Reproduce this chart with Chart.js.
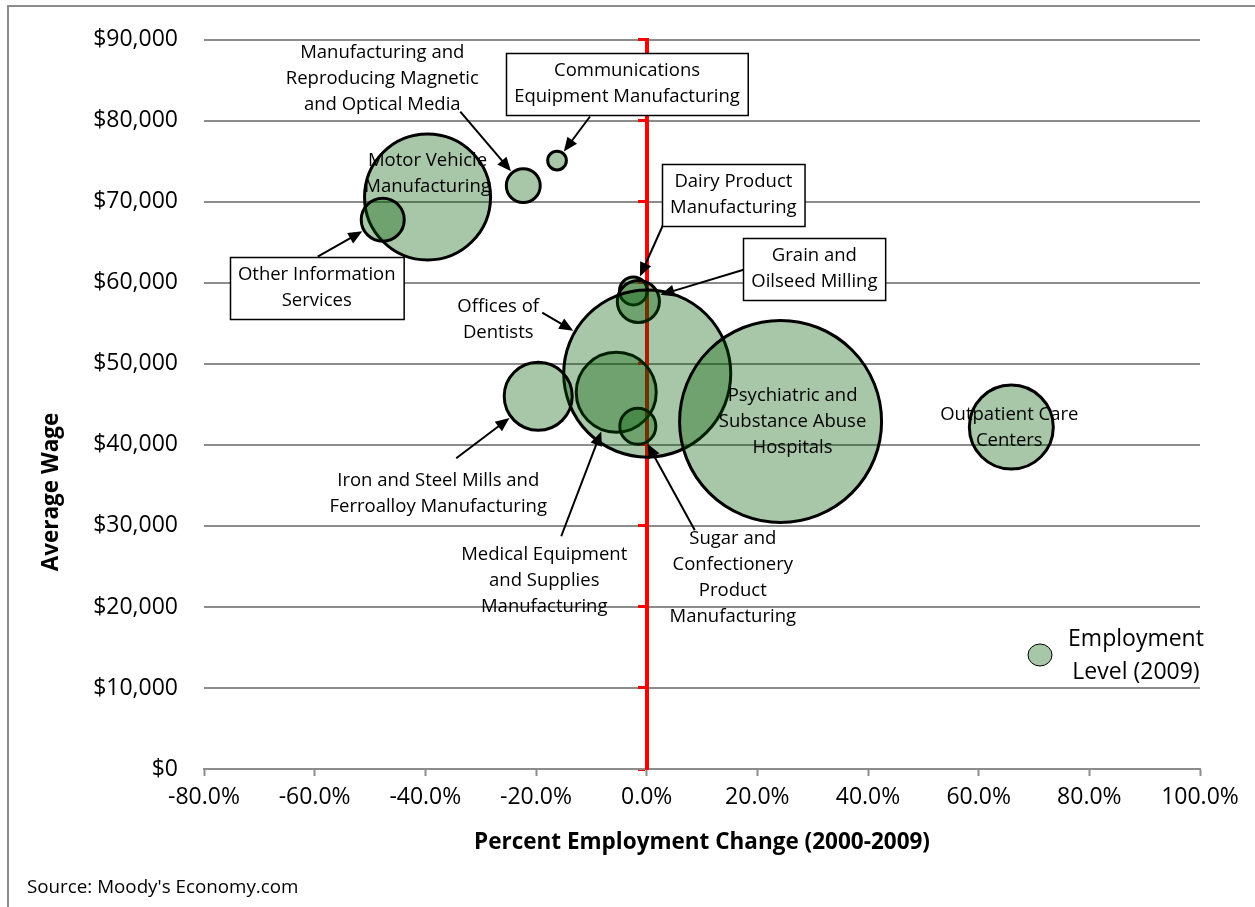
<!DOCTYPE html>
<html>
<head>
<meta charset="utf-8">
<title>Employment Change vs Average Wage</title>
<script src="https://cdn.jsdelivr.net/npm/chart.js@4.4.1/dist/chart.umd.min.js"></script>
<style>
    body { margin: 0; background: #fff; }
    canvas { display: block; }
</style>
</head>
<body>
<canvas id="wage-chart" width="1255" height="907"></canvas>
<script>
const industries = [
    "Motor Vehicle Manufacturing",
    "Other Information Services",
    "Manufacturing and Reproducing Magnetic and Optical Media",
    "Communications Equipment Manufacturing",
    "Medical Equipment and Supplies Manufacturing",
    "Sugar and Confectionery Product Manufacturing",
    "Dairy Product Manufacturing",
    "Grain and Oilseed Milling",
    "Offices of Dentists",
    "Iron and Steel Mills and Ferroalloy Manufacturing",
    "Psychiatric and Substance Abuse Hospitals",
    "Outpatient Care Centers"
];
// percent change in employment, 2000-2009
const employmentChange = [-39.6, -47.7, -22.3, -16.2, -5.5, -1.6, -2.4, -1.5, 0.1, -19.6, 24.2, 65.9];
// average wage, dollars
const averageWage = [70600, 67800, 72000, 75100, 46500, 42300, 59000, 57700, 48800, 46000, 42900, 42200];
// employment level 2009 (bubble area)
const employmentLevel = [635, 74, 46, 14, 256, 52, 31, 71, 1116, 185, 1632, 282];

// label text, one entry per line
const labelLines = [
    ["Motor Vehicle", "Manufacturing"],
    ["Other Information", "Services"],
    ["Manufacturing and", "Reproducing Magnetic", "and Optical Media"],
    ["Communications", "Equipment Manufacturing"],
    ["Medical Equipment", "and Supplies", "Manufacturing"],
    ["Sugar and", "Confectionery", "Product", "Manufacturing"],
    ["Dairy Product", "Manufacturing"],
    ["Grain and", "Oilseed Milling"],
    ["Offices of", "Dentists"],
    ["Iron and Steel Mills and", "Ferroalloy Manufacturing"],
    ["Psychiatric and", "Substance Abuse", "Hospitals"],
    ["Outpatient Care", "Centers"]
];

const BUBBLE_SCALE = 2.5;
const FONT = '"Open Sans", sans-serif';
const GRID_GRAY = '#8c8c8c';
const BUBBLE_FILL = 'rgba(0, 90, 0, 0.34)';

// where each label sits relative to its bubble (px), and where its arrow starts
const labelLayout = [
    { dx: 0, dy: -23 },
    { dx: -66, dy: 68, box: true, arrow: [-65, 37] },
    { dx: -141, dy: -107, arrow: [-63, -74] },
    { dx: 70, dy: -77, box: true, arrow: [33, -44] },
    { dx: -72, dy: 188, arrow: [-55, 144] },
    { dx: 95, dy: 151, arrow: [57, 104] },
    { dx: 100, dy: -96, box: true, arrow: [31, -69] },
    { dx: 176, dy: -33, box: true, arrow: [106, -32] },
    { dx: -149, dy: -54, arrow: [-105, -61] },
    { dx: -100, dy: 97, arrow: [-82, 62] },
    { dx: 12, dy: 0 },
    { dx: -2, dy: 1 }
];

const bubbleData = industries.map((name, i) => ({
    x: employmentChange[i],
    y: averageWage[i],
    r: Math.sqrt(employmentLevel[i]) * BUBBLE_SCALE
}));

function drawArrow(ctx, x1, y1, x2, y2) {
    const ang = Math.atan2(y2 - y1, x2 - x1);
    const cos = Math.cos(ang), sin = Math.sin(ang);
    const head = 14, half = 6;
    ctx.beginPath();
    ctx.moveTo(x1, y1);
    ctx.lineTo(x2 - cos * head * 0.8, y2 - sin * head * 0.8);
    ctx.stroke();
    ctx.beginPath();
    ctx.moveTo(x2, y2);
    ctx.lineTo(x2 - head * cos + half * sin, y2 - head * sin - half * cos);
    ctx.lineTo(x2 - head * cos - half * sin, y2 - head * sin + half * cos);
    ctx.closePath();
    ctx.fill();
}

const bubbleLabels = {
    id: 'bubbleLabels',
    afterDatasetsDraw(chart) {
        const ctx = chart.ctx;
        const meta = chart.getDatasetMeta(0);
        const lh = 26;
        ctx.save();
        ctx.font = `18.5px ${FONT}`;
        ctx.textAlign = 'center';
        ctx.textBaseline = 'middle';
        ctx.strokeStyle = '#000';
        ctx.fillStyle = '#000';
        ctx.lineWidth = 2;
        industries.forEach((name, i) => {
            const el = meta.data[i];
            const lay = labelLayout[i];
            if (!lay.arrow) return;
            const sx = el.x + lay.arrow[0], sy = el.y + lay.arrow[1];
            const d = Math.hypot(lay.arrow[0], lay.arrow[1]);
            const r = el.options.radius + 2;
            drawArrow(ctx, sx, sy, el.x + lay.arrow[0] / d * r, el.y + lay.arrow[1] / d * r);
        });
        industries.forEach((name, i) => {
            const el = meta.data[i];
            const lay = labelLayout[i];
            const lines = labelLines[i];
            const cx = el.x + lay.dx, cy = el.y + lay.dy;
            if (lay.box) {
                const w = Math.max(...lines.map(t => ctx.measureText(t).width)) + 16;
                const h = lines.length * lh + 10;
                const bx = Math.round(cx - w / 2) + 0.5, by = Math.round(cy - h / 2) + 0.5;
                ctx.fillStyle = '#fff';
                ctx.fillRect(bx, by, w, h);
                ctx.lineWidth = 1.5;
                ctx.strokeRect(bx, by, w, h);
                ctx.fillStyle = '#000';
            }
            lines.forEach((t, k) => {
                ctx.fillText(t, cx, cy + (k - (lines.length - 1) / 2) * lh);
            });
        });
        ctx.restore();
    }
};

const chartDecor = {
    id: 'chartDecor',
    afterDraw(chart) {
        const ctx = chart.ctx;
        ctx.save();
        // outer frame
        ctx.strokeStyle = GRID_GRAY;
        ctx.lineWidth = 2;
        ctx.beginPath();
        ctx.moveTo(8, 908);
        ctx.lineTo(8, 6);
        ctx.lineTo(1256, 6);
        ctx.stroke();

        ctx.fillStyle = '#000';
        ctx.textAlign = 'center';
        ctx.textBaseline = 'middle';
        ctx.font = `bold 22.5px ${FONT}`;
        ctx.fillText('Percent Employment Change (2000-2009)', 702, 843);
        ctx.save();
        ctx.translate(52, 492);
        ctx.rotate(-Math.PI / 2);
        ctx.fillText('Average Wage', 0, 0);
        ctx.restore();

        ctx.textAlign = 'left';
        ctx.font = `18.8px ${FONT}`;
        ctx.fillText("Source: Moody's Economy.com", 27, 888);

        // legend
        ctx.beginPath();
        ctx.ellipse(1040, 655, 12, 11, 0, 0, Math.PI * 2);
        ctx.fillStyle = BUBBLE_FILL;
        ctx.fill();
        ctx.lineWidth = 1;
        ctx.strokeStyle = '#000';
        ctx.stroke();
        ctx.fillStyle = '#000';
        ctx.textAlign = 'center';
        ctx.font = `23px ${FONT}`;
        ctx.fillText('Employment', 1136, 639);
        ctx.fillText('Level (2009)', 1136, 672);
        ctx.restore();
    }
};

const wageCanvas = document.getElementById('wage-chart');
const wageChart = new Chart(wageCanvas, {
    type: 'bubble',
    data: {
        datasets: [{
            label: 'Employment Level (2009)',
            data: bubbleData,
            xAxisID: 'x',
            yAxisID: 'y',
            backgroundColor: BUBBLE_FILL,
            borderColor: '#000',
            borderWidth: 3,
            clip: false
        }]
    },
    options: {
        responsive: false,
        animation: false,
        events: [],
        layout: {
            autoPadding: false,
            padding: { top: 33, right: 55, left: 0, bottom: 0 }
        },
        scales: {
            x: {
                type: 'linear',
                position: 'bottom',
                min: -80,
                max: 100,
                afterFit: (scale) => { scale.height = 138; },
                ticks: {
                    stepSize: 20,
                    padding: 8,
                    color: '#000',
                    font: { family: FONT, size: 23 },
                    maxRotation: 0,
                    callback: (v) => v.toFixed(1) + '%'
                },
                grid: {
                    drawOnChartArea: false,
                    drawTicks: true,
                    tickLength: 7,
                    tickWidth: 2,
                    tickColor: GRID_GRAY,
                    z: -1
                },
                border: { color: GRID_GRAY, width: 2 }
            },
            y: {
                type: 'linear',
                position: 'left',
                min: 0,
                max: 90000,
                afterFit: (scale) => { scale.width = 204; },
                ticks: {
                    stepSize: 10000,
                    padding: 26,
                    color: '#000',
                    font: { family: FONT, size: 23 },
                    callback: (v) => '$' + v.toLocaleString('en-US')
                },
                grid: {
                    color: GRID_GRAY,
                    lineWidth: 2,
                    drawTicks: false,
                    z: -1
                },
                border: { display: false }
            },
            // red reference axis at 0% change
            zero: {
                type: 'linear',
                axis: 'y',
                position: { x: 0 },
                min: 0,
                max: 90000,
                ticks: { display: false, stepSize: 10000 },
                grid: {
                    drawOnChartArea: false,
                    drawTicks: true,
                    tickLength: 7,
                    tickWidth: 3,
                    tickColor: '#ff0000'
                },
                border: { color: '#ff0000', width: 4 }
            }
        },
        plugins: {
            legend: { display: false },
            tooltip: { enabled: false }
        }
    },
    plugins: [bubbleLabels, chartDecor]
});
</script>
</body>
</html>
